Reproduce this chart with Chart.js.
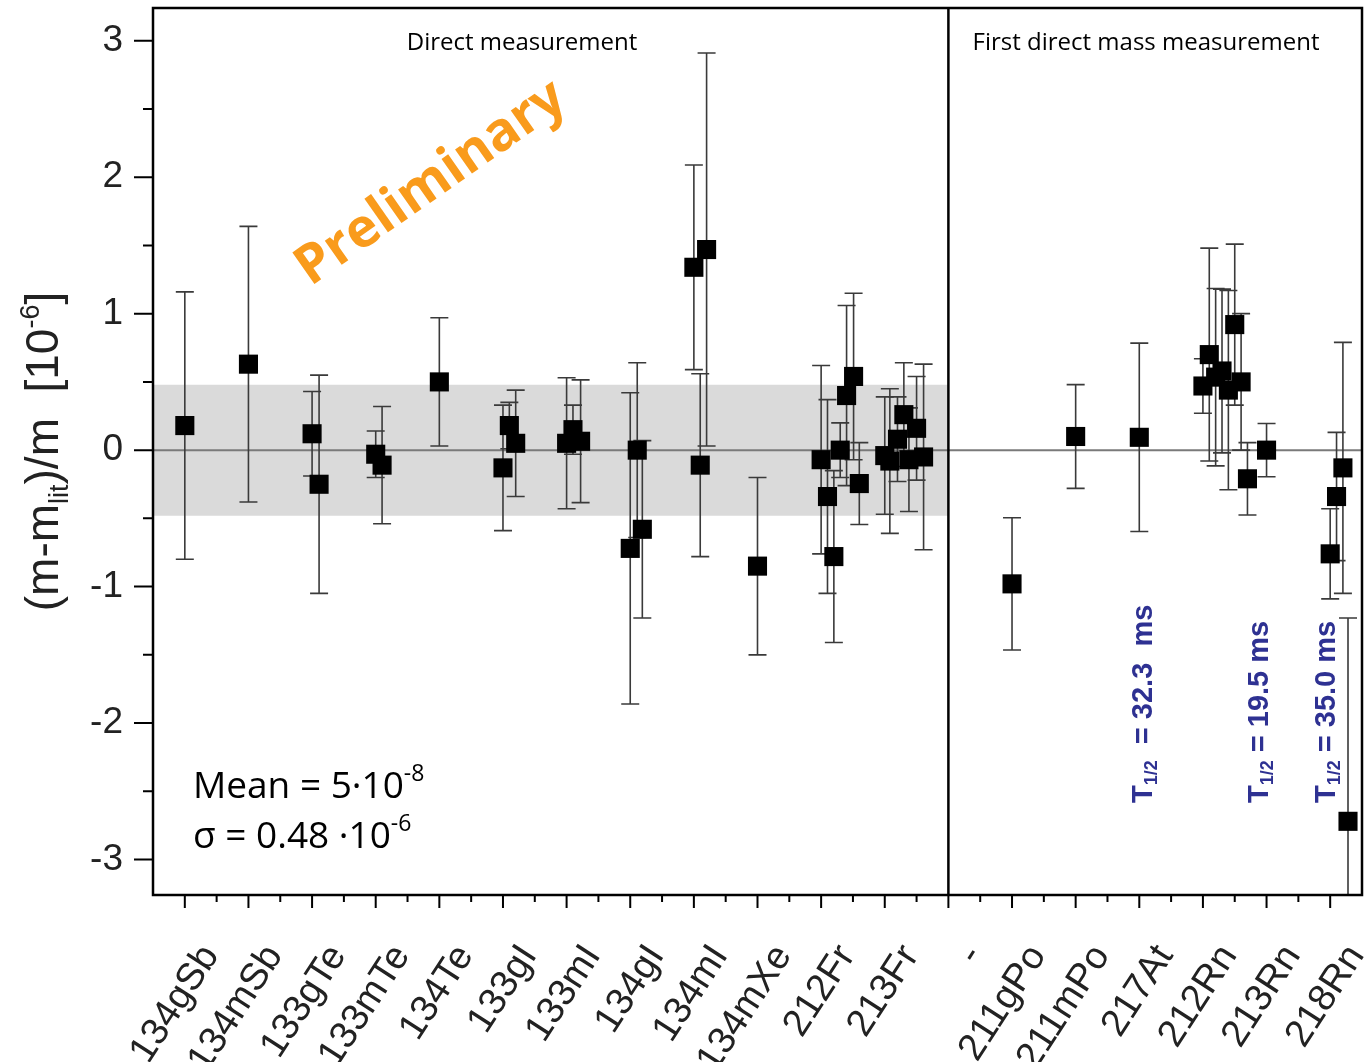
<!DOCTYPE html>
<html>
<head>
<meta charset="utf-8">
<script src="https://cdn.jsdelivr.net/npm/chart.js@4.4.1/dist/chart.umd.min.js"></script>
<style>
  html, body { margin: 0; padding: 0; background: #fff; }
  #wrap { width: 1368px; height: 1062px; }
</style>
</head>
<body>
<div id="wrap"><canvas id="chart" width="1368" height="1062"></canvas></div>
<script>
// ==========================================
// DATA
// ==========================================

// category labels along the x axis (one per slot)
const isotopes = ['134gSb', '134mSb', '133gTe', '133mTe', '134Te', '133gI', '133mI', '134gI',
                  '134mI', '134mXe', '212Fr', '213Fr', '-', '211gPo', '211mPo', '217At',
                  '212Rn', '213Rn', '218Rn'];

// x position of each measurement (slot index + small offset for repeated runs)
const pointX = [0, 1, 2, 2.11, 3, 3.10, 4, 5, 5.10, 5.20, 6, 6.10, 6.22, 7, 7.11, 7.19,
                8, 8.10, 8.20, 9, 10, 10.10, 10.20, 10.30, 10.40, 10.51, 10.60,
                11, 11.08, 11.20, 11.30, 11.38, 11.50, 11.61,
                13, 14, 15, 16, 16.10, 16.20, 16.30, 16.40, 16.50, 16.60, 16.70,
                17, 18, 18.10, 18.20, 18.28];

// (m - m_lit)/m in units of 1e-6
const pointY = [0.18, 0.63, 0.12, -0.25, -0.03, -0.11, 0.50, -0.13, 0.18, 0.05, 0.05, 0.15, 0.065,
                -0.72, 0.0, -0.58, 1.34, -0.11, 1.47, -0.85, -0.07, -0.34, -0.78, 0.0, 0.40, 0.54, -0.245,
                -0.04, -0.08, 0.08, 0.26, -0.07, 0.16, -0.05,
                -0.98, 0.10, 0.094, 0.47, 0.70, 0.535, 0.58, 0.44, 0.92, 0.50, -0.21,
                0.0, -0.76, -0.34, -0.13, -2.72];

// symmetric uncertainties
const pointErr = [0.98, 1.01, 0.31, 0.80, 0.17, 0.43, 0.47, 0.46, 0.17, 0.39, 0.48, 0.18, 0.45,
                  1.14, 0.64, 0.65, 0.75, 0.67, 1.44, 0.65, 0.69, 0.71, 0.63, 0.20, 0.66, 0.61, 0.30,
                  0.43, 0.53, 0.31, 0.38, 0.38, 0.38, 0.68,
                  0.485, 0.38, 0.69, 0.20, 0.78, 0.65, 0.60, 0.73, 0.59, 0.50, 0.265,
                  0.195, 0.33, 0.47, 0.92, 1.49];

const yTickValues = [-3, -2, -1, 0, 1, 2, 3];
const sigma = 0.48;          // grey band half-width
const dividerSlot = 12;      // border between the two groups

// ==========================================
// HELPERS
// ==========================================
const SANS = '"Liberation Sans", Arial, sans-serif';
const SOFT = '"Open Sans", sans-serif';

// draws a run of text parts with their own size / baseline shift
function richText(ctx, parts, x, y, align) {
    let total = 0;
    parts.forEach(p => { ctx.font = p.f; total += ctx.measureText(p.t).width; });
    let cx = align === 'center' ? x - total / 2 : x;
    ctx.textAlign = 'left';
    ctx.textBaseline = 'alphabetic';
    parts.forEach(p => {
        ctx.font = p.f;
        ctx.fillText(p.t, cx, y + (p.dy || 0));
        cx += ctx.measureText(p.t).width;
    });
}

const decorPlugin = {
    id: 'decor',
    beforeDatasetDraw(chart, args) {
        if (args.index !== 3) return;
        // error bars under the markers
        const { ctx, chartArea: a, scales: { x, y } } = chart;
        ctx.save();
        ctx.beginPath();
        ctx.rect(a.left, a.top, a.right - a.left, a.bottom - a.top);
        ctx.clip();
        ctx.strokeStyle = '#3a3a3a';
        ctx.lineWidth = 1.6;
        pointX.forEach((xv, i) => {
            const px = x.getPixelForValue(xv);
            const top = y.getPixelForValue(pointY[i] + pointErr[i]);
            const bot = y.getPixelForValue(pointY[i] - pointErr[i]);
            ctx.beginPath();
            ctx.moveTo(px, top); ctx.lineTo(px, bot);
            ctx.moveTo(px - 9, top); ctx.lineTo(px + 9, top);
            ctx.moveTo(px - 9, bot); ctx.lineTo(px + 9, bot);
            ctx.stroke();
        });
        ctx.restore();
    },
    afterDraw(chart) {
        const { ctx, chartArea: a, scales: { x, y } } = chart;
        ctx.save();

        // frame
        ctx.strokeStyle = '#000';
        ctx.lineWidth = 2.5;
        ctx.strokeRect(a.left, a.top, a.right - a.left, a.bottom - a.top);

        // tick marks (major + minor)
        ctx.lineWidth = 2;
        ctx.beginPath();
        for (let v = -3; v <= 3; v += 0.5) {
            const py = y.getPixelForValue(v);
            const len = Number.isInteger(v) ? 19 : 10;
            ctx.moveTo(a.left - len, py); ctx.lineTo(a.left, py);
        }
        for (let v = 0; v <= 18; v += 0.5) {
            const px = x.getPixelForValue(v);
            const len = Number.isInteger(v) ? 13 : 7;
            ctx.moveTo(px, a.bottom); ctx.lineTo(px, a.bottom + len);
        }
        ctx.stroke();

        // y axis title
        ctx.fillStyle = '#222';
        ctx.save();
        ctx.translate(58, (a.top + a.bottom) / 2);
        ctx.rotate(-Math.PI / 2);
        richText(ctx, [
            { t: '(m-m', f: '46px ' + SANS },
            { t: 'lit', f: '27px ' + SANS, dy: 10 },
            { t: ')/m  [10', f: '46px ' + SANS },
            { t: '-6', f: '27px ' + SANS, dy: -19 },
            { t: ']', f: '46px ' + SANS }
        ], 0, 0, 'center');
        ctx.restore();

        // group headers
        ctx.fillStyle = '#000';
        richText(ctx, [{ t: 'Direct measurement', f: '24px ' + SOFT }], 522, 50, 'center');
        richText(ctx, [{ t: 'First direct mass measurement', f: '24px ' + SOFT }], 1146, 50, 'center');

        // statistics
        richText(ctx, [
            { t: 'Mean = 5\u00b710', f: '37px ' + SOFT },
            { t: '-8', f: '23px ' + SOFT, dy: -17 }
        ], 193, 798, 'left');
        richText(ctx, [
            { t: '\u03c3 = 0.48 \u00b710', f: '37px ' + SOFT },
            { t: '-6', f: '23px ' + SOFT, dy: -17 }
        ], 193, 848, 'left');

        // half-lives
        ctx.fillStyle = '#2e3192';
        const halfLives = [[1152, '  = 32.3  ms'], [1268, ' = 19.5 ms'], [1335, ' = 35.0 ms']];
        halfLives.forEach(([hx, txt]) => {
            ctx.save();
            ctx.translate(hx, 803);
            ctx.rotate(-Math.PI / 2);
            richText(ctx, [
                { t: 'T', f: 'bold 29px ' + SANS },
                { t: '1/2', f: 'bold 18px ' + SANS, dy: 5 },
                { t: txt, f: 'bold 29px ' + SANS }
            ], 0, 0, 'left');
            ctx.restore();
        });

        // watermark
        ctx.save();
        ctx.translate(440, 196);
        ctx.rotate(-35 * Math.PI / 180);
        ctx.fillStyle = '#f99b1c';
        richText(ctx, [{ t: 'Preliminary', f: 'bold 54px ' + SOFT }], 0, 0, 'center');
        ctx.restore();

        ctx.restore();
    }
};

// ==========================================
// CHART
// ==========================================
new Chart(document.getElementById('chart'), {
    type: 'scatter',
    data: {
        datasets: [
            {   // sigma band over the direct measurements
                showLine: true,
                data: [{ x: -0.5, y: sigma }, { x: dividerSlot, y: sigma }],
                fill: { value: -sigma },
                backgroundColor: '#dadada',
                borderWidth: 0,
                pointRadius: 0,
                order: 4
            },
            {   // zero line
                showLine: true,
                data: [{ x: -0.5, y: 0 }, { x: 18.5, y: 0 }],
                borderColor: '#7a7a7a',
                borderWidth: 2,
                pointRadius: 0,
                order: 3
            },
            {   // divider
                showLine: true,
                data: [{ x: dividerSlot, y: -3.26 }, { x: dividerSlot, y: 3.24 }],
                borderColor: '#000',
                borderWidth: 2.5,
                pointRadius: 0,
                order: 2
            },
            {
                data: pointX.map((xv, i) => ({ x: xv, y: pointY[i] })),
                pointStyle: 'rect',
                pointRadius: 13.5,
                backgroundColor: '#000',
                borderWidth: 0,
                order: 0
            }
        ]
    },
    options: {
        responsive: false,
        animation: false,
        devicePixelRatio: 1,
        events: [],
        layout: { autoPadding: false, padding: { top: 8, right: 6, left: 0, bottom: 0 } },
        plugins: { legend: { display: false }, tooltip: { enabled: false } },
        scales: {
            x: {
                type: 'linear',
                min: -0.5,
                max: 18.5,
                grid: { display: false, drawTicks: false },
                border: { display: false },
                afterBuildTicks: s => { s.ticks = isotopes.map((_, i) => ({ value: i })); },
                afterFit: s => { s.height = 167; s.paddingLeft = 0; s.paddingRight = 0; },
                ticks: {
                    autoSkip: false,
                    minRotation: 57,
                    maxRotation: 57,
                    padding: 42,
                    labelOffset: 26,
                    color: '#222',
                    font: { family: SANS, size: 38 },
                    callback: v => isotopes[v]
                }
            },
            y: {
                min: -3.26,
                max: 3.24,
                grid: { display: false, drawTicks: false },
                border: { display: false },
                afterBuildTicks: s => { s.ticks = yTickValues.map(v => ({ value: v })); },
                afterFit: s => { s.width = 153; s.paddingTop = 0; s.paddingBottom = 0; },
                ticks: {
                    padding: 30,
                    color: '#222',
                    font: { family: SANS, size: 37 }
                }
            }
        }
    },
    plugins: [decorPlugin]
});
</script>
</body>
</html>
